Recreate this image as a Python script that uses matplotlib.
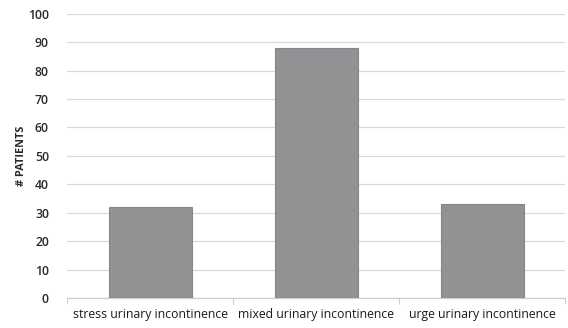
import matplotlib.pyplot as plt
from matplotlib.ticker import FixedLocator

CATEGORIES = ['stress urinary incontinence', 'mixed urinary incontinence', 'urge urinary incontinence']
PATIENTS = [32, 88, 33]
Y_TICKS = list(range(0, 101, 10))

plt.rcParams['font.family'] = ['Open Sans', 'DejaVu Sans']

fig = plt.figure(figsize=(5.68, 3.28), dpi=100)
ax = fig.add_axes([0.118, 0.0915, 0.877, 0.8665])

x = list(range(len(CATEGORIES)))
ax.bar(x, PATIENTS, width=0.5, color='#929294', edgecolor='#86868a', linewidth=0.8, zorder=3)

ax.set_xlim(-0.5, len(CATEGORIES) - 0.5)
ax.set_ylim(0, 100)
ax.set_yticks(Y_TICKS)
ax.set_yticklabels([str(t) for t in Y_TICKS], fontsize=8.8, color='#2a2a2a', fontweight='semibold')
ax.yaxis.grid(True, color='#d9d9d9', linewidth=0.9, zorder=0)
ax.tick_params(axis='y', length=0, pad=13)

ax.set_xticks(x)
ax.set_xticklabels(CATEGORIES, fontsize=8.8, color='#1a1a1a')
ax.tick_params(axis='x', length=0, pad=7)
ax.xaxis.set_minor_locator(FixedLocator([-0.5, 0.5, 1.5, 2.5]))
ax.tick_params(axis='x', which='minor', length=4, color='#cfcfcf', width=0.8)

for side in ['top', 'right', 'left']:
    ax.spines[side].set_visible(False)
ax.spines['bottom'].set_color('#cfcfcf')
ax.spines['bottom'].set_linewidth(0.9)

ax.set_ylabel('# PATIENTS', fontsize=7.8, color='#2a2a2a', fontweight='bold')
ax.yaxis.set_label_coords(-0.08, 0.5)

fig.savefig('out.png', dpi=100)
